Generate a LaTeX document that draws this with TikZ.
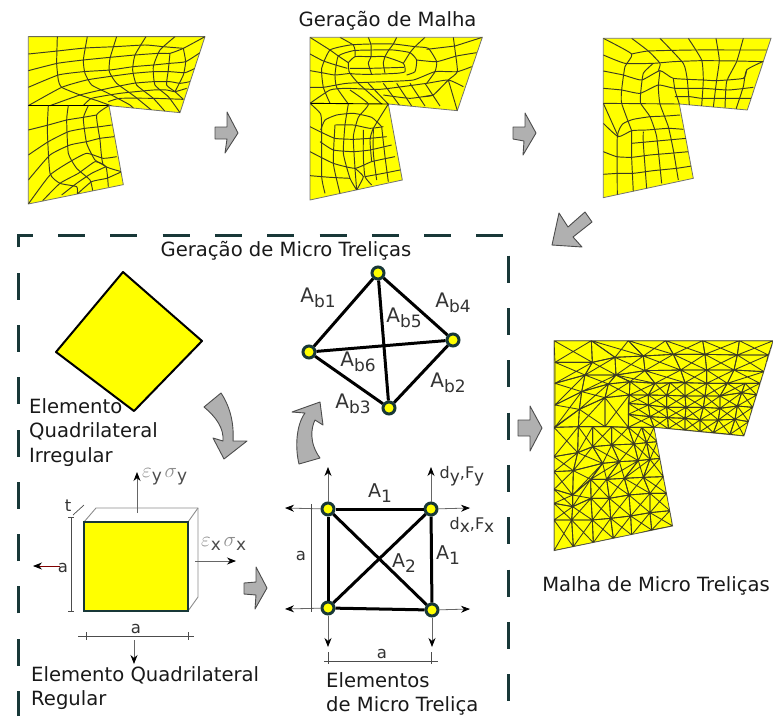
\documentclass[tikz,border=0pt]{standalone}
\usepackage{fix-cm}
\usepackage{fontspec}
\setmainfont{DejaVu Sans}
\usetikzlibrary{arrows.meta}
\definecolor{amar}{RGB}{255,255,0}
\definecolor{escuro}{RGB}{24,56,56}
\definecolor{cinza}{RGB}{176,176,176}
\definecolor{traco}{RGB}{60,60,35}
\newcommand{\subi}[1]{\raisebox{-.4ex}{\fontsize{17}{17}\selectfont #1}}
\newcommand{\simb}[2]{{\color{black!45}\fontsize{21}{21}\selectfont$\varepsilon$}\subi{\color{black!70}#1}\,{\color{black!45}\fontsize{21}{21}\selectfont$\sigma$}\subi{\color{black!70}#2}}
\newcommand{\celula}[4]{\draw[micro] (#1) -- (#2) -- (#3) -- (#4) -- cycle (#1) -- (#3) (#2) -- (#4);}
\newcommand{\pontos}[2]{\foreach \pts [count=\lin] in {#2} \foreach \p/\q [count=\col] in \pts \coordinate (#1\col-\lin) at (\p,\q);}
\newcommand{\grade}[3]{\foreach \col in {1,...,#2} {\foreach \lin in {1,...,#3} {
  \pgfmathtruncatemacro{\colp}{\col+1}\pgfmathtruncatemacro{\linp}{\lin+1}
  \celula{#1\col-\lin}{#1\colp-\lin}{#1\colp-\linp}{#1\col-\linp}}}}
\tikzset{
  fio/.style      = {draw=traco, line width=.95pt, smooth, tension=.3},
  contorno/.style = {fill=amar, draw=black!55, line width=.8pt},
  bloco/.style    = {fill=cinza, draw=black!70, line width=.9pt, line join=round},
  tracejado/.style= {draw=escuro, line width=3pt, dash pattern=on 27pt off 25.3pt, dash phase=2pt},
  txt/.style      = {font=\fontsize{19.6}{24.8}\selectfont, inner sep=0pt, align=left, text=black!90},
  rot/.style      = {font=\fontsize{16.5}{18}\selectfont, inner sep=0pt, text=black!80},
  nb/.style       = {circle, fill=amar, draw=escuro, line width=3pt, minimum size=12pt, inner sep=0pt},
  barra/.style    = {line width=3pt, draw=black},
  forca/.style    = {draw=black!60, line width=.8pt, -{Stealth[length=9pt, width=7pt, color=black]}},
  cota/.style     = {draw=black!70, line width=.7pt},
  caixa/.style    = {draw=black!45, line width=.9pt},
  micro/.style    = {draw=traco, line width=.85pt}
}
\begin{document}
\begin{tikzpicture}[x=1pt, y=-1pt]
  \useasboundingbox (0,0) rectangle (773,716);

  \node[txt] (tmalha) at (387.5,21) {Geração de Malha};

  % malha 1
  \begin{scope}[shift={(20,30)}, x=.3333pt, y=-.3333pt]
    \fill[contorno] (25,20) -- (555,20) -- (480,248) -- (267,227) -- (310,464) -- (25,522) -- cycle;
    \clip (25,20) -- (555,20) -- (480,248) -- (267,227) -- (310,464) -- (25,522) -- cycle;
    \draw[fio] plot coordinates {(25,72)(112,63)(195,54)(285,50)(375,45)(430,50)(490,55)};
    \draw[fio] plot coordinates {(25,122)(112,100)(190,90)(270,82)(345,75)(415,70)(450,70)(490,55)(555,20)};
    \draw[fio] plot coordinates {(25,172)(115,135)(190,125)(270,120)(340,110)(400,105)(450,100)(497,95)(540,68)};
    \draw[fio] plot coordinates {(25,227)(125,172)(200,150)(265,140)(340,130)(400,125)(450,125)(495,128)(525,115)};
    \draw[fio] plot coordinates {(90,227)(180,195)(265,175)(340,160)(400,155)(450,155)(480,160)(510,155)};
    \draw[fio] plot coordinates {(190,227)(215,205)(300,190)(400,180)(440,180)(465,185)(500,175)};
    \draw[fio] plot coordinates {(265,215)(300,205)(400,205)(490,208)};
    \draw[line width=1pt] (25,20) -- (555,20);
    \draw[line width=1pt] (25,227) -- (267,227);
    \draw[fio] plot coordinates {(112,20)(110,100)(115,150)(125,172)(180,195)(240,215)(285,232)};
    \draw[fio] plot coordinates {(202,20)(190,90)(195,130)(215,165)(265,190)(330,225)(345,240)};
    \draw[fio] plot coordinates {(290,20)(270,85)(268,125)(290,160)(345,200)(400,245)};
    \draw[fio] plot coordinates {(378,20)(345,75)(338,120)(350,165)(400,205)(440,250)};
    \draw[fio] plot coordinates {(465,20)(420,60)(400,110)(405,165)(445,200)(480,248)};
    \draw[fio] plot coordinates {(450,70)(445,120)(440,165)(465,185)(490,208)};
    \draw[fio] plot coordinates {(490,55)(497,95)(490,135)(465,185)};
    % parte de baixo
    \draw[fio] plot coordinates {(85,227)(82,300)(90,430)(120,460)(170,470)(172,492)};
    \draw[fio] plot coordinates {(145,227)(140,270)(145,370)(170,415)(210,450)(218,482)};
    \draw[fio] plot coordinates {(205,227)(190,265)(200,340)(225,390)(258,410)(265,470)};
    \draw[fio] plot coordinates {(267,227)(230,255)(240,330)(250,405)(305,425)};
    \draw[fio] plot coordinates {(25,300)(85,285)(140,270)(190,262)(230,255)};
    \draw[fio] plot coordinates {(25,375)(85,335)(145,305)(195,295)(240,290)(275,285)};
    \draw[fio] plot coordinates {(25,450)(90,375)(150,345)(200,335)(240,325)(283,320)};
    \draw[fio] plot coordinates {(25,522)(90,435)(150,395)(200,370)(250,385)(290,380)};
    \draw[fio] plot coordinates {(68,512)(120,460)(175,430)(225,395)(250,405)};
    \draw[fio] plot coordinates {(125,495)(170,460)(215,430)(258,410)};
    \draw[fio] plot coordinates {(172,492)(215,455)(260,445)(305,425)};
  \end{scope}

  % malha 2
  \begin{scope}[shift={(300,30)}, x=.3333pt, y=-.3333pt]
    \fill[contorno] (30,22) -- (547,22) -- (472,242) -- (265,222) -- (307,450) -- (30,510) -- cycle;
    \clip (30,22) -- (547,22) -- (472,242) -- (265,222) -- (307,450) -- (30,510) -- cycle;
    % aneis
    \draw[fio] plot coordinates {(90,220)(70,172)(65,115)(90,60)(150,45)(210,42)(280,42)(345,50)(385,55)(410,95)(405,125)(380,160)};
    \draw[fio] plot coordinates {(145,222)(110,172)(105,135)(115,78)(160,62)(215,60)(280,60)(330,68)(350,90)(345,125)(320,135)};
    \draw[fio] plot coordinates {(145,98)(165,80)(213,80)(255,80)(310,100)(315,125)(290,130)(210,133)(150,130)(145,98)};
    \draw[fio] plot coordinates {(150,115)(210,115)(312,112)};
    % radiais
    \draw[fio] plot coordinates {(30,22)(90,60)(115,78)(145,98)};
    \draw[fio] plot coordinates {(30,72)(68,92)(107,105)(142,115)};
    \draw[fio] plot coordinates {(30,122)(65,128)(105,135)(150,130)};
    \draw[fio] plot coordinates {(30,172)(70,172)(140,160)(250,155)(340,150)(405,125)(472,125)(515,110)};
    \draw[fio] plot coordinates {(30,220)(90,180)(140,175)(240,178)(380,160)(445,150)(490,170)};
    \draw[fio] plot coordinates {(120,22)(160,45)(165,62)(165,80)};
    \draw[fio] plot coordinates {(205,22)(213,45)(213,80)(205,100)(215,133)};
    \draw[fio] plot coordinates {(290,22)(280,42)(265,62)(255,80)(250,100)(255,130)};
    \draw[fio] plot coordinates {(375,22)(345,50)(330,68)(310,100)};
    \draw[fio] plot coordinates {(460,22)(465,60)(472,125)(445,150)(400,195)(370,200)};
    \draw[fio] plot coordinates {(465,48)(547,22)};
    \draw[fio] plot coordinates {(380,58)(465,48)};
    \draw[fio] plot coordinates {(350,90)(410,95)(470,78)(530,68)};
    \draw[fio] plot coordinates {(150,130)(175,160)(245,222)};
    \foreach \xa/\xb in {205/270,250/300,290/335,330/375,375/420}{
      \draw[fio] plot coordinates {(\xa,160)(\xb,228)};
    }
    \draw[fio] plot coordinates {(445,150)(472,242)};
    \draw[fio] plot coordinates {(250,195)(330,205)(400,195)};
    \draw[line width=.9pt] (30,220) -- (265,222);
    % parte de baixo
    \draw[fio] plot coordinates {(145,222)(135,285)(130,370)(150,445)(170,480)};
    \draw[fio] plot coordinates {(150,180)(205,222)(175,262)(160,320)(165,415)(170,480)};
    \draw[fio] plot coordinates {(265,222)(220,295)(210,330)(215,395)};
    \draw[fio] plot coordinates {(30,220)(62,252)(65,300)(65,440)(75,490)};
    \draw[fio] plot coordinates {(62,300)(75,270)(110,255)(160,250)(215,262)(245,290)};
    \draw[fio] plot coordinates {(105,285)(160,285)(210,295)(250,290)};
    \draw[fio] plot coordinates {(30,290)(60,305)(105,325)(160,328)(210,325)(260,320)};
    \draw[fio] plot coordinates {(60,335)(100,360)(160,365)(210,360)(275,345)};
    \draw[fio] plot coordinates {(30,365)(100,400)(165,415)(215,395)(285,380)};
    \draw[fio] plot coordinates {(30,437)(90,442)(150,445)};
    \draw[fio] plot coordinates {(195,440)(250,430)(300,420)};
    \draw[fio] plot coordinates {(105,285)(100,400)(120,490)};
    \draw[fio] plot coordinates {(165,415)(190,440)(170,480)};
    \draw[fio] plot coordinates {(190,300)(190,380)(195,440)(215,465)};
    \draw[fio] plot coordinates {(220,295)(220,370)(230,450)};
    \draw[fio] plot coordinates {(245,290)(255,380)(265,455)};
  \end{scope}

  % malha 3
  \begin{scope}[shift={(400,0)}, x=.3333pt, y=-.3333pt]
    \fill[contorno] (610,115) -- (1113,115) -- (1042,330) -- (838,312) -- (880,535) -- (610,593) -- cycle;
    \clip (610,115) -- (1113,115) -- (1042,330) -- (838,312) -- (880,535) -- (610,593) -- cycle;
    \draw[fio] plot coordinates {(610,115)(695,162)(675,200)(665,270)(665,310)(695,392)};
    \draw[fio] plot coordinates {(695,115)(745,153)(780,190)(775,212)};
    \draw[fio] plot coordinates {(780,115)(850,190)(862,240)(868,315)};
    \draw[fio] plot coordinates {(865,115)(905,180)(910,240)(905,318)};
    \draw[fio] plot coordinates {(948,115)(958,180)(950,240)(940,322)};
    \draw[fio] plot coordinates {(1030,115)(1010,185)(980,245)(975,325)};
    \draw[fio] plot coordinates {(1088,185)(1040,210)(1030,260)(1008,328)};
    \draw[fio] plot coordinates {(695,162)(745,153)(880,150)(1030,150)(1100,150)};
    \draw[fio] plot coordinates {(610,165)(675,190)(760,190)(820,185)(905,182)(1010,183)(1090,185)};
    \draw[fio] plot coordinates {(610,213)(670,225)(725,240)(780,212)(820,235)(910,240)(950,242)(1030,235)(1040,210)};
    \draw[fio] plot coordinates {(610,265)(665,270)(720,280)(775,255)(825,265)(910,265)(985,270)(1060,262)};
    \draw[fio] plot coordinates {(825,290)(870,290)(905,295)(975,295)(1053,295)};
    \draw[fio] plot coordinates {(760,190)(730,220)(722,280)(722,310)(750,350)(770,410)(785,550)};
    \draw[fio] plot coordinates {(780,212)(775,260)(780,312)(805,380)(820,450)(835,540)};
    \draw[fio] plot coordinates {(820,235)(825,270)(838,312)};
    \draw[line width=.9pt, traco] (610,310) -- (838,312);
    % parte de baixo
    \draw[fio] plot coordinates {(610,310)(655,410)};
    \draw[fio] plot coordinates {(750,350)(700,358)(668,372)(652,410)(652,590)};
    \draw[fio] plot coordinates {(750,350)(800,348)(840,345)};
    \draw[fio] plot coordinates {(610,370)(655,410)(695,392)(740,390)(805,385)(850,388)};
    \draw[fio] plot coordinates {(695,430)(750,425)(805,420)(860,415)};
    \draw[fio] plot coordinates {(610,455)(650,470)(695,472)(750,465)(810,460)(866,455)};
    \draw[fio] plot coordinates {(610,523)(655,520)(700,520)(760,512)(830,505)(875,498)};
    \draw[fio] plot coordinates {(695,392)(695,472)(700,575)};
    \draw[fio] plot coordinates {(730,395)(730,430)(740,565)};
  \end{scope}

  % setas da malha
  \draw[bloco] (215,127) -- (227,127) -- (227,112) -- (238,133) -- (225,153) -- (227,139) -- (215,139) -- cycle;
  \draw[bloco] (513,127) -- (525,127) -- (525,113) -- (536,133) -- (523,155) -- (524,141) -- (513,139) -- cycle;
  \draw[bloco] (592,222) -- (585,212) -- (568,227) -- (559,213) -- (552,245) -- (582,247) -- (573,237) -- cycle;
  \draw[bloco] (518,420) -- (530,420) -- (530,406) -- (542,428) -- (530,451) -- (530,436) -- (518,436) -- cycle;
  \draw[bloco] (244,583) -- (256,582) -- (256,567) -- (267,588) -- (255,609) -- (256,595) -- (244,594) -- cycle;
  \draw[bloco] (204,407) -- (221,393) .. controls (231,408) and (234,425) .. (233,441) -- (247,441) -- (224,459) -- (213,438) -- (223,441) .. controls (224,428) and (216,417) .. (204,407) -- cycle;
  \draw[bloco] (299,464) -- (320,458) .. controls (309,443) and (311,428) .. (315,420) -- (323,425) -- (320,402) -- (292,412) -- (305,413) .. controls (296,425) and (295,448) .. (299,464) -- cycle;

  % quadro tracejado
  \draw[tracejado] (18,716) -- (18,235) -- (508,235) -- (508,716);
  \node[txt] (tmicro) at (286,251) {Geração de Micro Treliças};

  % malha de micro trelicas
  \begin{scope}[shift={(530,320)}, x=.3333pt, y=-.3333pt]
    \fill[contorno] (72,62) -- (730,62) -- (642,348) -- (372,322) -- (428,618) -- (72,692) -- cycle;
    \clip (72,62) -- (730,62) -- (642,348) -- (372,322) -- (428,618) -- (72,692) -- cycle;
    \pontos{t}{{184/62,295/62,407/62,518/62,628/62,730/62},
      {255/112,340/108,430/103,525/103,622/105,715/105},
      {258/165,345/152,452/150,530/150,612/150,702/155},
      {300/185,375/190,465/188,530/190,592/190,690/190}}
    \pontos{m}{{300/185,375/190,420/188,465/188,530/190,592/190,645/190,690/190},
      {298/225,355/225,410/226,465/228,525/228,570/228,635/218,680/225},
      {295/250,355/255,410/262,468/262,520/262,570/265,622/258,668/262},
      {295/283,360/290,413/293,465/295,510/300,565/300,615/298,656/305},
      {295/322,372/322,415/326,465/330,510/335,550/338,600/343,642/348}}
    \pontos{a}{{75/127,187/127,255/112},{75/190,165/165,258/165}}
    \pontos{e}{{75/255,155/215,235/192,300/185},{75/322,148/268,225/233,298/225},{72/322,145/320,225/320,295/322}}
    \pontos{b}{{72/322,145/320,188/320,245/320,295/322,335/322,372/322},
      {72/410,143/398,188/380,245/375,312/372,350/368,382/365},
      {72/455,130/452,218/430,268/425,325/422,360/418,390/415},
      {72/508,128/525,182/478,230/478,283/475,340/472,400/470},
      {72/550,128/560,183/535,238/535,297/525,360/520,410/520},
      {72/600,125/600,187/600,242/595,302/588,360/578,420/572},
      {72/692,130/680,190/668,250/655,305/645,365/630,428/618}}
    \coordinate (c0) at (72,62);
    \celula{c0}{t1-1}{a2-1}{a1-1}
    \draw[micro] (t1-1) -- (t1-2) -- (a2-1) -- cycle;
    \grade{t}{5}{3}
    \grade{m}{7}{4}
    \grade{a}{2}{1}
    \celula{a1-2}{a2-2}{e2-1}{e1-1}
    \celula{a2-2}{a3-2}{e3-1}{e2-1}
    \draw[micro] (a3-2) -- (e4-1) -- (e3-1) -- cycle;
    \draw[micro] (t1-3) -- (e4-1);
    \grade{e}{3}{2}
    \grade{b}{6}{6}
  \end{scope}
  \node[txt] (tmmt) at (656,586) {Malha de Micro Treliças};

  % elemento irregular
  \draw[line width=2pt, fill=amar, line join=round] (123,272) -- (202,341) -- (134,411) -- (56,352) -- cycle;
  \node[txt, anchor=north west] (tirr) at (29,398) {Elemento\\Quadrilateral\\Irregular};

  % elemento regular
  \draw[caixa] (84,522) -- (96,508) -- (198,508) -- (198,597) -- (188,611);
  \draw[caixa] (188,522) -- (198,508);
  \draw[draw=escuro, line width=1.6pt, fill=amar] (84,522) rectangle (188,611);
  \coordinate (ef1) at (137,513);  \coordinate (ef2) at (137,472);
  \coordinate (ef3) at (195,561);  \coordinate (ef4) at (236,561);
  \coordinate (ef5) at (60,566);   \coordinate (ef6) at (33,566);
  \coordinate (ef7) at (134,640);  \coordinate (ef8) at (134,664);
  \draw[forca] (ef1) -- (ef2);
  \draw[forca] (ef3) -- (ef4);
  \draw[forca, draw=black!50!red] (ef5) -- (ef6);
  \draw[forca] (ef7) -- (ef8);
  \draw[cota, |-|] (71,517) -- (71,612);
  \draw[cota] (73,515) -- (84,505);
  \draw[cota] (78,636) -- (194,636);
  \draw[cota] (86,632) -- (86,640) (188,632) -- (188,640);
  \node[rot] (at) at (68,506) {t};
  \node[rot] (a1) at (63,568) {a};
  \node[rot] (a2) at (136,629) {a};
  \node[rot, anchor=west] (sy) at (142,477) {\simb{y}{y}};
  \node[rot, anchor=west] (sx) at (201,544) {\simb{x}{x}};
  \node[txt, anchor=north west] (treg) at (31,666) {Elemento Quadrilateral\\Regular};

  % trelica quadrada
  \node[nb] (tl) at (328,509) {};
  \node[nb] (tr) at (431,509) {};
  \node[nb] (bl) at (328,608) {};
  \node[nb] (br) at (432,610) {};
  \coordinate (tlu) at (328,467);  \coordinate (tll) at (285,508);
  \coordinate (tru) at (431,467);  \coordinate (trr) at (470,508);
  \coordinate (bll) at (285,609);  \coordinate (bld) at (328,647);
  \coordinate (brr) at (470,609);  \coordinate (brd) at (432,647);
  \foreach \a/\b in {tl/tlu,tl/tll,tr/tru,tr/trr,bl/bll,bl/bld,br/brr,br/brd}
    \draw[forca] (\a) -- (\b);
  \draw[barra] (tl) -- (tr);
  \draw[barra] (tr) -- (br);
  \draw[barra] (br) -- (bl);
  \draw[barra] (bl) -- (tl);
  \draw[barra] (tl) -- (br);
  \draw[barra] (tr) -- (bl);
  \draw[cota] (311,504) -- (311,612);
  \draw[cota] (324,661) -- (438,661);
  \draw[cota] (328,652) -- (328,664) (431,652) -- (431,664);
  \node[rot] (a3) at (301,556) {a};
  \node[rot] (a4) at (382,654) {a};
  \node[rot, font=\fontsize{19}{19}\selectfont] (l1) at (380,493) {A\subi{1}};
  \node[rot, font=\fontsize{19}{19}\selectfont] (l2) at (448,555) {A\subi{1}};
  \node[rot, font=\fontsize{19}{19}\selectfont] (l3) at (404,563) {A\subi{2}};
  \node[rot, font=\fontsize{16}{16}\selectfont] (fy) at (462,476) {d\subi{y},F\subi{y}};
  \node[rot, font=\fontsize{16}{16}\selectfont] (fx) at (472,525) {d\subi{x},F\subi{x}};
  \node[txt, anchor=north west] (tele) at (326,672) {Elementos\\de Micro Treliça};

  % trelica losango
  \node[nb] (lt) at (378,273) {};
  \node[nb] (lr) at (453,340) {};
  \node[nb] (ld) at (389,408) {};
  \node[nb] (le) at (309,352) {};
  \draw[barra] (lt) -- (lr);
  \draw[barra] (lr) -- (ld);
  \draw[barra] (ld) -- (le);
  \draw[barra] (le) -- (lt);
  \draw[barra] (lt) -- (ld);
  \draw[barra] (le) -- (lr);
  \foreach \n/\x/\y/\t in {b1/318/298/1, b4/453/303/4, b5/404/318/5, b6/358/362/6, b2/448/383/2, b3/353/404/3}
    \node[rot, font=\fontsize{20}{20}\selectfont] (\n) at (\x,\y) {A\subi{b\t}};
\end{tikzpicture}
\end{document}
